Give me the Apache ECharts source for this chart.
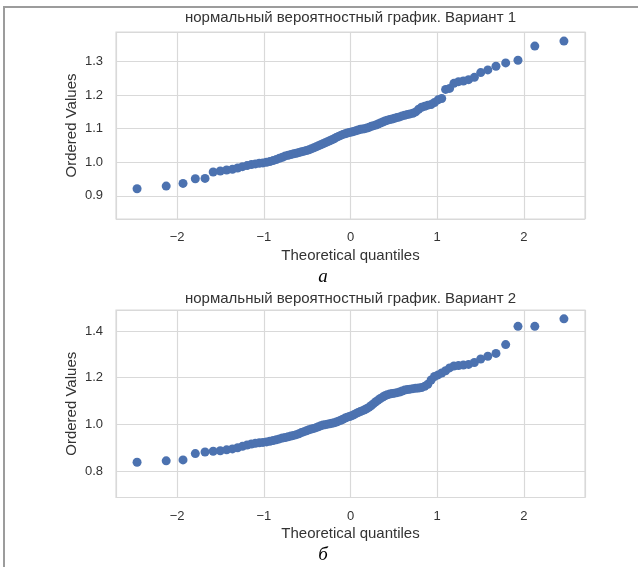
<html>

<head>
    <meta charset="utf-8" />
    <script src="https://cdn.jsdelivr.net/npm/echarts@6/dist/echarts.min.js"></script>
    <title>нормальный вероятностный график</title>
    <style>
        body { margin: 0; background: #ffffff; }
        #frame { position: absolute; left: 3px; top: 6px; width: 640px; height: 570px;
                 border-top: 2px solid #9c9c9c; border-left: 2px solid #9c9c9c; }
        #chart { position: absolute; left: 0; top: 0; width: 638px; height: 567px; }
    </style>
    <script type="text/javascript">
        // theoretical quantiles (n = 100)
        var quantiles = [
            -2.462, -2.126, -1.932, -1.790, -1.678, -1.584, -1.502, -1.429, -1.362, -1.302,
            -1.246, -1.193, -1.143, -1.097, -1.052, -1.010, -0.969, -0.930, -0.892, -0.856,
            -0.820, -0.786, -0.752, -0.719, -0.687, -0.656, -0.625, -0.595, -0.566, -0.536,
            -0.508, -0.480, -0.452, -0.424, -0.397, -0.371, -0.344, -0.318, -0.292, -0.266,
            -0.240, -0.215, -0.189, -0.164, -0.139, -0.113, -0.088, -0.062, -0.037, -0.012,
            0.012, 0.037, 0.062, 0.088, 0.113, 0.139, 0.164, 0.189, 0.215, 0.240,
            0.266, 0.292, 0.318, 0.344, 0.371, 0.397, 0.424, 0.452, 0.480, 0.508,
            0.536, 0.566, 0.595, 0.625, 0.656, 0.687, 0.719, 0.752, 0.786, 0.820,
            0.856, 0.892, 0.930, 0.969, 1.010, 1.052, 1.097, 1.143, 1.193, 1.246,
            1.302, 1.362, 1.429, 1.502, 1.584, 1.678, 1.790, 1.932, 2.126, 2.462
        ];
        var variant1 = [
            0.921, 0.929, 0.937, 0.951, 0.952, 0.971, 0.974, 0.977, 0.979, 0.983,
            0.987, 0.990, 0.993, 0.995, 0.997, 0.998, 1.000, 1.002, 1.005, 1.008,
            1.012, 1.015, 1.019, 1.021, 1.023, 1.025, 1.027, 1.029, 1.031, 1.033,
            1.035, 1.037, 1.040, 1.043, 1.046, 1.049, 1.052, 1.055, 1.058, 1.061,
            1.064, 1.067, 1.070, 1.074, 1.077, 1.080, 1.083, 1.085, 1.087, 1.089,
            1.090, 1.092, 1.094, 1.096, 1.098, 1.099, 1.100, 1.102, 1.104, 1.107,
            1.109, 1.111, 1.114, 1.117, 1.120, 1.123, 1.125, 1.127, 1.129, 1.131,
            1.133, 1.135, 1.138, 1.140, 1.142, 1.144, 1.146, 1.150, 1.158, 1.164,
            1.167, 1.170, 1.172, 1.178, 1.186, 1.190, 1.217, 1.220, 1.235, 1.240,
            1.242, 1.246, 1.253, 1.267, 1.275, 1.286, 1.296, 1.304, 1.346, 1.361
        ];
        var variant2 = [
            0.838, 0.844, 0.848, 0.875, 0.882, 0.885, 0.887, 0.891, 0.895, 0.900,
            0.906, 0.912, 0.916, 0.919, 0.921, 0.923, 0.925, 0.928, 0.931, 0.934,
            0.938, 0.942, 0.944, 0.947, 0.950, 0.953, 0.956, 0.960, 0.965, 0.969,
            0.973, 0.977, 0.980, 0.983, 0.986, 0.990, 0.994, 0.997, 0.999, 1.001,
            1.003, 1.005, 1.007, 1.010, 1.014, 1.018, 1.022, 1.027, 1.031, 1.034,
            1.037, 1.041, 1.046, 1.051, 1.055, 1.059, 1.063, 1.068, 1.074, 1.081,
            1.089, 1.097, 1.104, 1.111, 1.117, 1.123, 1.127, 1.130, 1.132, 1.134,
            1.136, 1.139, 1.143, 1.147, 1.149, 1.151, 1.153, 1.155, 1.156, 1.158,
            1.163, 1.172, 1.190, 1.205, 1.212, 1.220, 1.230, 1.242, 1.250, 1.252,
            1.254, 1.257, 1.265, 1.280, 1.292, 1.304, 1.342, 1.420, 1.420, 1.452
        ];
        var titles = ['нормальный вероятностный график. Вариант 1', 'нормальный вероятностный график. Вариант 2'];
        var captions = ['а', 'б'];
        var xName = 'Theoretical quantiles';
        var yName = 'Ordered Values';
        var xRange = [-2.705, 2.705];
        var yRanges = [[0.831, 1.388], [0.687, 1.490]];
    </script>
</head>

<body>
    <div id="frame"></div>
    <div id="chart"></div>

    <script type="text/javascript">
        var font = 'Liberation Sans, Arial, sans-serif';
        var gridColor = '#d9d9d9';
        var textColor = '#333333';

        function pairs(values) {
            return quantiles.map(function (q, i) { return [q, values[i]]; });
        }

        function xAxis(idx) {
            return {
                type: 'value', gridIndex: idx, min: xRange[0], max: xRange[1],
                name: xName, nameLocation: 'middle', nameGap: 29,
                nameTextStyle: { color: textColor, fontSize: 15, fontFamily: font },
                axisLine: { show: false }, axisTick: { show: false },
                axisLabel: {
                    color: textColor, fontSize: 13, fontFamily: font, margin: 12,
                    showMinLabel: false, showMaxLabel: false,
                    formatter: function (v) { return v < 0 ? '\u2212' + Math.abs(v) : String(v); }
                },
                splitLine: { lineStyle: { color: gridColor, width: 1.2 } }
            };
        }

        function yAxis(idx) {
            return {
                type: 'value', gridIndex: idx, min: yRanges[idx][0], max: yRanges[idx][1],
                name: yName, nameLocation: 'middle', nameGap: 37, nameRotate: 90,
                nameMoveOverlap: false,
                nameTextStyle: { color: textColor, fontSize: 15, fontFamily: font },
                axisLine: { show: false }, axisTick: { show: false },
                axisLabel: {
                    color: textColor, fontSize: 13, fontFamily: font, margin: 13,
                    showMinLabel: false, showMaxLabel: false,
                    formatter: function (v) { return v.toFixed(1); }
                },
                splitLine: { lineStyle: { color: gridColor, width: 1.2 } }
            };
        }

        function label(text, x, y, style) {
            return {
                type: 'text', x: x, y: y,
                style: Object.assign({ text: text, textAlign: 'center', textVerticalAlign: 'middle', fill: textColor }, style)
            };
        }

        var chart = echarts.init(document.getElementById('chart'), null, { renderer: 'canvas' });
        var option = {
            animation: false,
            grid: [
                { left: 116, top: 32, width: 469, height: 187, show: true, borderColor: gridColor, borderWidth: 1.2 },
                { left: 116, top: 310, width: 469, height: 187.5, show: true, borderColor: gridColor, borderWidth: 1.2 }
            ],
            xAxis: [xAxis(0), xAxis(1)],
            yAxis: [yAxis(0), yAxis(1)],
            series: [
                { type: 'scatter', xAxisIndex: 0, yAxisIndex: 0, data: pairs(variant1), symbolSize: 9,
                  itemStyle: { color: '#4c72b0', opacity: 1 }, emphasis: { disabled: true } },
                { type: 'scatter', xAxisIndex: 1, yAxisIndex: 1, data: pairs(variant2), symbolSize: 9,
                  itemStyle: { color: '#4c72b0', opacity: 1 }, emphasis: { disabled: true } }
            ],
            graphic: [
                label(titles[0], 350.5, 18, { font: '15px ' + font }),
                label(titles[1], 350.5, 299, { font: '15px ' + font }),
                label(captions[0], 323, 277, { font: 'italic 19px Liberation Serif, DejaVu Serif, serif', fill: '#000' }),
                label(captions[1], 323, 555, { font: 'italic 19px Liberation Serif, DejaVu Serif, serif', fill: '#000' })
            ]
        };
        chart.setOption(option);
    </script>

</body>

</html>
